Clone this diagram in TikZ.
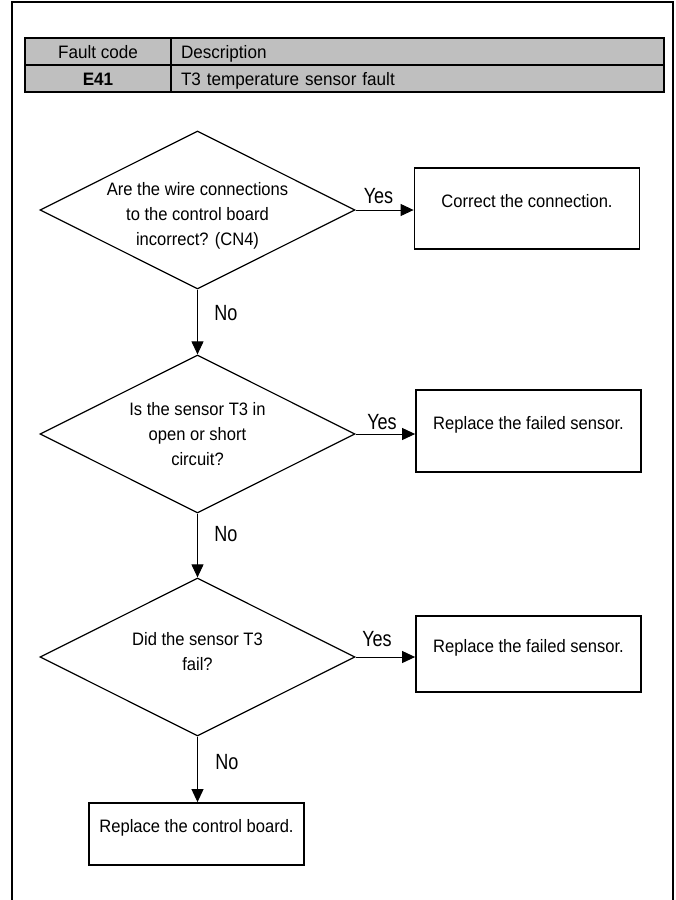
\documentclass[tikz,border=0pt]{standalone}
\usepackage{fontspec}
\setmainfont{Liberation Sans}[FakeStretch=0.92]
\newfontfamily\lblfont{Liberation Sans}[FakeStretch=0.82]
\newfontfamily\tabfont{Liberation Sans}[FakeStretch=0.95]
\usetikzlibrary{shapes.geometric,arrows.meta}
\begin{document}
\begin{tikzpicture}[x=1pt,y=-1pt,
  cell/.style={draw, fill=black!25, line width=1.2pt, minimum height=27pt, inner sep=0pt,
    text height=13pt, text depth=0pt, font=\tabfont\fontsize{18}{22}\selectfont},
  dia/.style={draw, diamond, aspect=2, line width=1.2pt, minimum width=315pt, minimum height=158pt,
    inner sep=0pt},
  dtxt/.style={inner sep=0pt, align=center, font=\fontsize{18}{25}\selectfont},
  bx/.style={draw, line width=1.8pt, minimum width=225pt, inner sep=0pt,
    text height=13pt, text depth=0pt, font=\fontsize{18}{25}\selectfont},
  lbl/.style={inner sep=0pt, font=\lblfont\fontsize{22}{22}\selectfont},
  arr/.style={-{Triangle[length=13pt,width=12pt]}, line width=1pt}]
\useasboundingbox (0,0) rectangle (676,900);
% outer frame
\draw[line width=1.5pt] (12,900) -- (12,2) -- (673,2) -- (673,900);
% table
\node[cell, minimum width=146pt] (h1) at (98,51.5) {Fault code};
\node[cell, text width=473pt, inner xsep=10pt, align=left] (h2) at (417.5,51.5) {Description};
\node[cell, minimum width=146pt] (r1) at (98,78.5) {\bfseries E41};
\node[cell, text width=473pt, inner xsep=10pt, align=left] (r2) at (417.5,78.5) {T3 temperature sensor fault};
% decisions
\node[dia] (d1) at (197.5,210) {};
\node[dia] (d2) at (197.5,434) {};
\node[dia] (d3) at (197.5,657) {};
\node[dtxt] (d1t) at (197.5,216) {Are the wire connections\\to the control board\\incorrect? (CN4)};
\node[dtxt] (d2t) at (197.5,434) {Is the sensor T3 in\\open or short\\circuit?};
\node[dtxt] (d3t) at (197.5,651.5) {Did the sensor T3\\fail?};
% actions
\node[bx, minimum height=81pt] (b1) at (527,208.5) {\raisebox{8pt}{Correct the connection.}};
\node[bx, minimum height=82pt] (b2) at (528.5,431) {\raisebox{8pt}{Replace the failed sensor.}};
\node[bx, minimum height=76pt] (b3) at (528.5,654) {\raisebox{8pt}{Replace the failed sensor.}};
\node[bx, minimum height=62pt, minimum width=215pt] (b4) at (196.5,834) {\raisebox{8pt}{Replace the control board.}};
% connectors
\draw[arr] (d1.east) -- (d1.east -| b1.west);
\draw[arr] (d2.east) -- (d2.east -| b2.west);
\draw[arr] (d3.east) -- (d3.east -| b3.west);
\draw[arr] (d1.south) -- (d2.north);
\draw[arr] (d2.south) -- (d3.north);
\draw[arr] (d3.south) -- (d3.south |- b4.north);
% labels
\node[lbl] (y1) at (378.5,196) {Yes};
\node[lbl] (y2) at (382,422) {Yes};
\node[lbl] (y3) at (377,639) {Yes};
\node[lbl] (n1) at (226,313) {No};
\node[lbl] (n2) at (226,534) {No};
\node[lbl] (n3) at (227,762) {No};
\end{tikzpicture}
\end{document}
